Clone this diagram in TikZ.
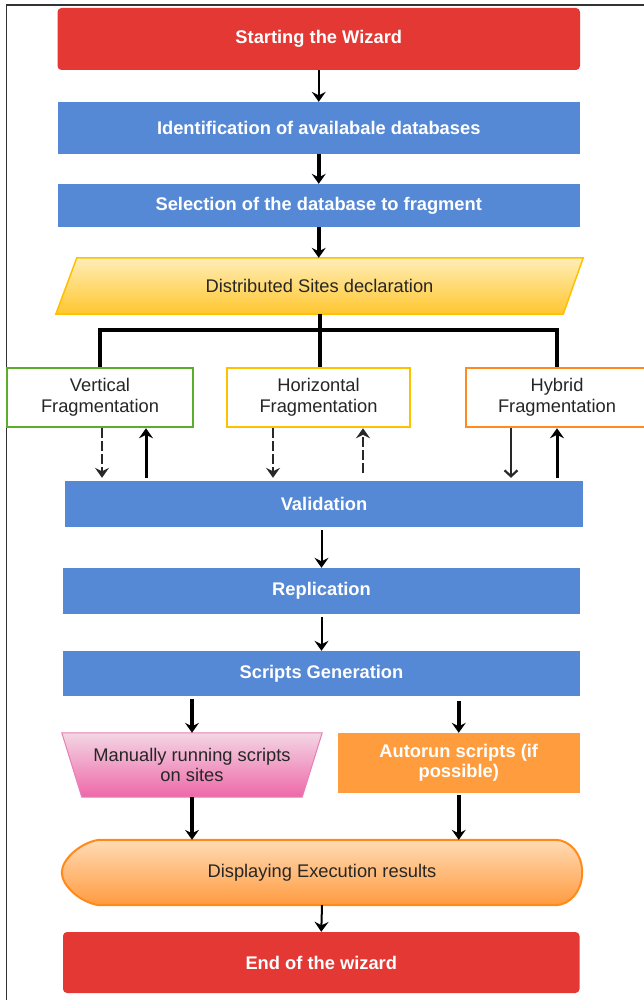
\documentclass[tikz,border=0pt]{standalone}
\usepackage{fontspec}
\setmainfont{Liberation Sans}
\usetikzlibrary{arrows.meta,backgrounds}
\definecolor{boxred}{RGB}{227,56,52}
\definecolor{boxblue}{RGB}{85,137,214}
\definecolor{sitestop}{RGB}{255,238,184}
\definecolor{sitesbot}{RGB}{255,198,46}
\definecolor{sitesline}{RGB}{255,192,0}
\definecolor{vline}{RGB}{90,174,42}
\definecolor{hline}{RGB}{255,192,0}
\definecolor{hyline}{RGB}{255,139,31}
\definecolor{mantop}{RGB}{243,214,228}
\definecolor{manbot}{RGB}{238,104,168}
\definecolor{manline}{RGB}{231,128,181}
\definecolor{autofill}{RGB}{255,157,62}
\definecolor{disptop}{RGB}{255,219,181}
\definecolor{dispbot}{RGB}{255,155,64}
\definecolor{displine}{RGB}{255,138,26}
\definecolor{ink}{RGB}{38,38,38}
\definecolor{framegray}{RGB}{51,51,51}
\definecolor{dashgray}{RGB}{40,40,40}
\begin{document}
\begin{tikzpicture}[x=1pt,y=-1pt,
  txt/.style={font=\fontsize{18.3}{20.5}\selectfont, align=center, inner sep=0pt, rectangle},
  headbox/.style={txt, font=\fontsize{18.3}{20.5}\selectfont\bfseries, text=white},
  redbox/.style={headbox, fill=boxred, rounded corners=4pt},
  bluebox/.style={headbox, fill=boxblue},
  fragbox/.style={txt, text=ink, line width=2.5pt, fill=white},
  ghost/.style={txt, text=ink},
  tip/.style={-{Stealth[length=10pt,width=14pt,inset=3.5pt]}},
  arr/.style={tip, line width=2pt, black},
  thickarr/.style={tip, line width=3.5pt, black},
  dasharr/.style={tip, line width=2.8pt, dashgray, dash pattern=on 10pt off 3pt},
  solidup/.style={tip, line width=3pt, black},
  thinarr/.style={-{Straight Barb[length=6pt,width=13pt]}, line width=2.2pt, dashgray},
  branch/.style={line width=4pt, black},
  frameline/.style={line width=1.5pt, framegray}
]
\useasboundingbox (0,0) rectangle (644,1000);
\begin{scope}[on background layer]
  \fill[white] (0,0) rectangle (644,1000);
\end{scope}

% page frame
\draw[frameline] (6.5,1000) -- (6.5,5) -- (644,5);

% main column
\node[redbox, minimum width=522.5, minimum height=62] (start) at (318.75,39) {Starting the Wizard};
\node[bluebox, minimum width=522.5, minimum height=52] (ident) at (318.75,128) {Identification of availabale databases};
\node[bluebox, minimum width=522.5, minimum height=43] (select) at (318.75,205.5) {Selection of the database to fragment};
\node[ghost, minimum width=527, minimum height=56] (sites) at (319.5,286) {Distributed Sites declaration};

% fragmentation choices
\node[fragbox, draw=vline, minimum width=186, minimum height=59] (vert) at (100,397.5) {Vertical\\Fragmentation};
\node[fragbox, draw=hline, minimum width=183, minimum height=59] (horiz) at (318.5,397.5) {Horizontal\\Fragmentation};
\node[fragbox, draw=hyline, minimum width=182, minimum height=59] (hyb) at (557,397.5) {Hybrid\\Fragmentation};

\node[bluebox, minimum width=518, minimum height=46] (valid) at (324,504) {Validation};
\node[bluebox, minimum width=517, minimum height=46] (repl) at (321.5,591) {Replication};
\node[bluebox, minimum width=517, minimum height=45] (scripts) at (321.5,673.5) {Scripts Generation};

\node[ghost, minimum width=260, minimum height=64] (manual) at (192,765) {Manually running scripts\\on sites};
\node[headbox, fill=autofill, minimum width=241.5, minimum height=60] (auto) at (458.75,763) {Autorun scripts (if\\possible)};
\node[ghost, minimum width=520, minimum height=65] (disp) at (322,872.5) {Displaying Execution results};
\node[redbox, minimum width=516.5, minimum height=61] (end) at (321.25,962.5) {End of the wizard};

% outlines of the special shapes
\begin{scope}[on background layer]
  \path[draw=sitesline, line width=1.5pt, top color=sitestop, bottom color=sitesbot]
    ([xshift=21pt]sites.north west) -- (sites.north east)
    -- ([xshift=-20pt]sites.south east) -- (sites.south west) -- cycle;
  \path[draw=manline, line width=1pt, top color=mantop, bottom color=manbot]
    (manual.north west) -- (manual.north east)
    -- ([xshift=-20pt]manual.south east) -- ([xshift=20pt]manual.south west) -- cycle;
  \path[draw=displine, line width=2pt, top color=disptop, bottom color=dispbot]
    ([xshift=37pt]disp.north west) -- ([xshift=-27pt]disp.north east)
    .. controls +(15,0) and +(0,-18) .. (disp.east)
    .. controls +(0,18) and +(15,0) .. ([xshift=-27pt]disp.south east)
    -- ([xshift=37pt]disp.south west)
    .. controls +(-19,-3) and +(0,13) .. (disp.west)
    .. controls +(0,-13) and +(-19,3) .. cycle;
\end{scope}

% sequential arrows
\draw[arr] (start.south) -- (ident.north);
\draw[thickarr] (ident.south) -- (select.north);
\draw[thickarr] (select.south) -- (select.south |- sites.north);

% branching to the three fragmentation types
\coordinate (bar) at (318,330);
\draw[branch] (sites.south) -- (sites.south |- horiz.north);
\draw[branch] (vert.north) |- (bar) -| (hyb.north);

% round trips to validation
\draw[dasharr, shorten >=3pt] ([xshift=2pt]vert.south) -- ([xshift=2pt]vert.south |- valid.north);
\draw[solidup, shorten <=3pt] ([xshift=46pt]vert.south |- valid.north) -- ([xshift=46pt]vert.south);
\draw[dasharr, shorten >=3pt] ([xshift=-45.5pt]horiz.south) -- ([xshift=-45.5pt]horiz.south |- valid.north);
\draw[dasharr, shorten <=8pt] ([xshift=44.5pt]horiz.south |- valid.north) -- ([xshift=44.5pt]horiz.south);
\draw[thinarr, shorten >=3pt] ([xshift=-46pt]hyb.south) -- ([xshift=-46pt]hyb.south |- valid.north);
\draw[solidup, shorten <=3pt] (hyb.south |- valid.north) -- (hyb.south);

\draw[arr, shorten <=3pt] (repl.north |- valid.south) -- (repl.north);
\draw[arr, shorten <=3pt] (repl.south) -- (scripts.north);
\draw[thickarr, shorten <=3pt] (manual.north |- scripts.south) -- (manual.north);
\draw[thickarr, shorten <=5pt] (auto.north |- scripts.south) -- (auto.north);
\draw[thickarr] (manual.south) -- (manual.south |- disp.north);
\draw[thickarr, shorten <=2pt] (auto.south) -- (auto.south |- disp.north);
\draw[arr] (disp.south) -- (end.north);
\end{tikzpicture}
\end{document}
